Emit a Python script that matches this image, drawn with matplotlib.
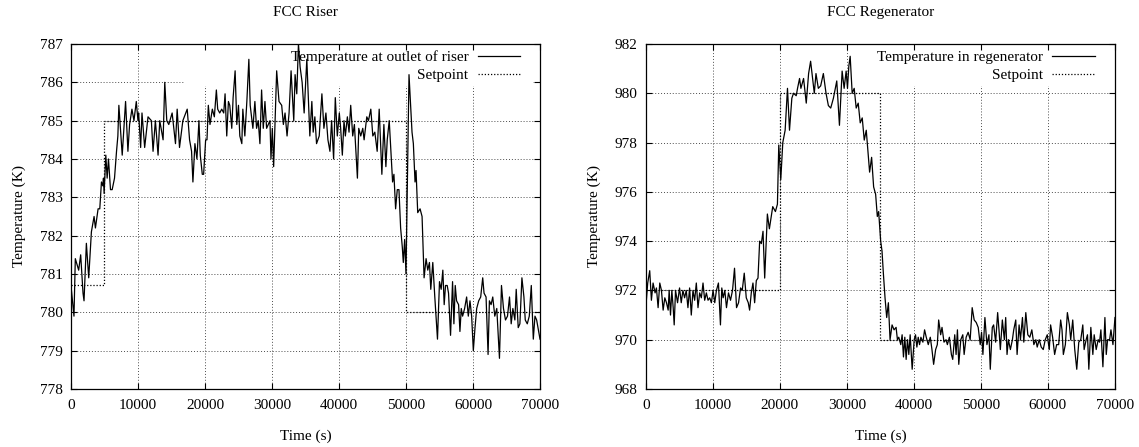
import matplotlib
matplotlib.use('Agg')
import matplotlib.pyplot as plt
from matplotlib.patches import Rectangle

plt.rcParams['font.family'] = ['Liberation Serif', 'DejaVu Serif']
plt.rcParams['font.size'] = 11

# ---- FCC riser: outlet temperature ----
riser_t = [0, 450, 650, 1150, 1450, 1800, 1950, 2300, 2450, 2650,
           3050, 3450, 3650, 4050, 4300, 4550, 4750, 4850, 4950, 5200,
           5400, 5600, 5900, 6150, 6500, 6800, 7000, 7150, 7650, 8150,
           8500, 8750, 9100, 9400, 9750, 10000, 10100, 10400, 10600, 11000,
           11500, 12000, 12250, 12600, 13000, 13250, 13750, 14000, 14300, 14600,
           15100, 15600, 15850, 16200, 16700, 17350, 17700, 18000, 18200, 18500,
           18800, 19100, 19300, 19600, 19800, 20100, 20300, 20500, 20750, 21100,
           21400, 21700, 21900, 22200, 22500, 22800, 23000, 23250, 23500, 23700,
           24000, 24200, 24500, 24750, 25000, 25200, 25500, 25650, 25950, 26250,
           26550, 26750, 27150, 27450, 27700, 27950, 28200, 28450, 28700, 28950,
           29200, 29450, 29700, 29850, 30050, 30250, 30700, 31050, 31450, 31700,
           31950, 32250, 32550, 32850, 33250, 33450, 33700, 33950, 34200, 34500,
           34800, 35200, 35650, 35950, 36150, 36400, 36650, 37050, 37450, 37750,
           38050, 38350, 38650, 38900, 39200, 39450, 39750, 40050, 40250, 40500,
           40750, 40950, 41250, 41500, 41750, 42050, 42300, 42750, 42950, 43250,
           43550, 43750, 44150, 44400, 44750, 45050, 45350, 45700, 46000, 46400,
           46700, 47000, 47200, 47500, 48000, 48200, 48450, 48700, 48950, 49200,
           49450, 49600, 49800, 50000, 50450, 50900, 51100, 51350, 51500, 51750,
           52100, 52400, 52700, 53000, 53250, 53500, 53700, 54000, 54300, 54700,
           55000, 55250, 55500, 55700, 55900, 56150, 56350, 56650, 56950, 57150,
           57350, 57550, 57850, 58050, 58250, 58450, 58750, 59050, 59300, 59550,
           59800, 60050, 60300, 60550, 60850, 61150, 61450, 61650, 61950, 62250,
           62450, 62700, 62950, 63250, 63550, 63950, 64250, 64550, 64850, 65150,
           65450, 65700, 65950, 66250, 66450, 66750, 67000, 67300, 67600, 67800,
           68100, 68400, 68700, 69000, 69250, 69500, 69800, 70000]
riser_T = [780.7, 779.9, 781.4, 781.1, 781.5, 780.5, 780.3, 781.8, 781.4, 780.9,
           782.1, 782.5, 782.2, 782.7, 782.7, 783.4, 783.3, 783.5, 783.1, 784.1,
           783.5, 784.0, 783.2, 783.2, 783.5, 784.2, 784.6, 785.4, 784.1, 785.5,
           784.2, 784.9, 785.3, 785.0, 785.5, 785.0, 785.2, 784.3, 785.2, 784.3,
           785.1, 785.0, 784.2, 785.0, 784.1, 785.0, 784.5, 786.0, 785.0, 784.9,
           785.2, 784.4, 785.3, 784.3, 785.0, 785.3, 784.5, 784.2, 783.4, 784.4,
           784.0, 785.0, 784.1, 783.6, 783.6, 784.5, 784.5, 785.4, 784.9, 785.3,
           785.1, 785.8, 785.3, 785.2, 785.3, 785.2, 785.7, 784.6, 785.5, 785.4,
           784.8, 785.6, 786.3, 784.9, 785.4, 784.6, 784.4, 785.3, 784.6, 785.5,
           786.6, 785.4, 784.8, 785.5, 784.8, 785.0, 784.4, 785.8, 784.8, 785.5,
           784.8, 784.9, 785.0, 784.0, 784.8, 783.8, 786.3, 785.5, 785.4, 784.9,
           785.2, 784.6, 785.2, 786.3, 785.0, 786.2, 785.7, 787.0, 786.4, 786.0,
           785.2, 786.6, 784.6, 785.5, 784.7, 785.1, 784.4, 784.6, 785.7, 784.8,
           785.2, 784.5, 784.2, 785.0, 784.0, 785.6, 784.6, 785.2, 784.8, 784.1,
           785.0, 784.6, 785.1, 784.7, 785.4, 784.6, 784.9, 783.5, 784.8, 784.6,
           784.8, 784.5, 785.1, 785.0, 785.3, 784.6, 784.7, 784.2, 785.3, 783.6,
           784.9, 783.8, 784.5, 785.0, 783.4, 783.6, 782.7, 783.2, 783.2, 782.2,
           781.7, 781.3, 781.9, 781.0, 786.2, 784.7, 784.4, 783.4, 783.7, 782.6,
           782.7, 782.5, 780.9, 781.4, 781.1, 781.3, 780.6, 781.3, 780.4, 779.3,
           780.8, 780.6, 781.1, 780.2, 780.7, 780.7, 780.5, 779.4, 780.8, 779.7,
           780.7, 780.3, 780.2, 779.5, 780.1, 779.9, 780.1, 780.4, 779.9, 780.3,
           779.9, 779.0, 779.6, 780.1, 780.3, 780.4, 780.9, 780.5, 780.4, 778.9,
           780.3, 780.2, 780.4, 779.9, 780.1, 778.8, 780.7, 780.1, 779.8, 779.9,
           780.4, 779.7, 780.1, 779.8, 780.6, 779.6, 779.7, 780.9, 780.4, 779.8,
           779.7, 779.9, 780.7, 779.3, 779.9, 779.8, 779.5, 779.3]
riser_sp_t = [0, 5000, 50000, 70000]
riser_sp_T = [780.7, 785.0, 780.0, 780.0]

# ---- FCC regenerator temperature ----
regen_t = [0, 100, 300, 600, 850, 1100, 1400, 1600, 1850, 2100,
           2350, 2600, 2850, 3100, 3350, 3500, 3700, 3900, 4100, 4250,
           4450, 4750, 5050, 5300, 5550, 5800, 6050, 6300, 6550, 6800,
           7050, 7300, 7550, 7800, 8050, 8300, 8550, 8800, 9050, 9300,
           9550, 9800, 10050, 10300, 10550, 10850, 11150, 11350, 11550, 11800,
           12050, 12350, 12650, 12950, 13250, 13550, 13850, 14150, 14400, 14700,
           15000, 15300, 15500, 15750, 16000, 16250, 16500, 16750, 17000, 17250,
           17500, 17750, 18150, 18450, 18950, 19350, 19650, 19850, 20150, 20450,
           20800, 21150, 21450, 21800, 22050, 22450, 22650, 22950, 23150, 23550,
           23950, 24300, 24600, 24900, 25150, 25400, 25750, 26100, 26500, 26900,
           27250, 27600, 28000, 28500, 28900, 29300, 29600, 29900, 30100, 30300,
           30500, 30800, 31100, 31400, 31700, 32000, 32300, 32600, 32900, 33200,
           33400, 33700, 34000, 34300, 34550, 34750, 35050, 35250, 35450, 35700,
           35950, 36200, 36450, 36750, 37050, 37350, 37550, 37750, 38050, 38250,
           38450, 38650, 38850, 39050, 39250, 39450, 39750, 40050, 40250, 40450,
           40650, 40850, 41050, 41350, 41600, 41850, 42150, 42450, 42700, 42950,
           43250, 43500, 43700, 44000, 44200, 44500, 44800, 45000, 45300, 45600,
           45800, 46100, 46300, 46500, 46700, 47000, 47300, 47500, 47800, 48100,
           48400, 48700, 49000, 49300, 49600, 49900, 50100, 50300, 50600, 50900,
           51200, 51400, 51700, 51900, 52200, 52500, 52700, 52900, 53200, 53500,
           53700, 53900, 54100, 54400, 54700, 54900, 55200, 55400, 55700, 55900,
           56200, 56400, 56700, 57000, 57300, 57600, 57900, 58200, 58400, 58700,
           59000, 59300, 59600, 59900, 60200, 60400, 60700, 61000, 61300, 61600,
           61900, 62100, 62300, 62600, 62900, 63200, 63400, 63700, 64000, 64300,
           64600, 64900, 65200, 65400, 65700, 65900, 66100, 66400, 66700, 66900,
           67200, 67500, 67700, 67900, 68200, 68500, 68700, 68900, 69200, 69400,
           69700, 70000]
regen_T = [971.9, 971.6, 972.3, 972.8, 971.6, 972.3, 971.9, 972.1, 971.3, 972.3,
           972.0, 971.2, 971.7, 971.5, 971.2, 972.0, 971.0, 972.0, 971.3, 970.6,
           972.0, 971.5, 972.1, 971.5, 972.0, 971.7, 972.0, 971.3, 972.1, 971.0,
           972.0, 971.6, 972.3, 971.3, 971.9, 971.7, 972.3, 971.6, 971.9, 971.6,
           971.7, 971.5, 972.0, 971.5, 972.0, 972.3, 970.6, 972.1, 971.7, 972.0,
           971.3, 971.9, 971.6, 972.0, 972.9, 971.3, 971.5, 972.1, 972.0, 972.7,
           971.7, 971.5, 971.2, 971.9, 972.3, 971.5, 972.4, 972.5, 974.0, 973.9,
           974.4, 972.5, 975.1, 974.5, 975.4, 975.2, 975.5, 977.9, 976.5, 978.0,
           978.5, 980.2, 978.5, 979.8, 980.0, 979.9, 980.2, 980.6, 980.2, 980.6,
           979.6, 980.8, 981.3, 980.6, 980.0, 980.8, 980.2, 980.3, 980.8, 980.0,
           979.5, 979.4, 979.8, 980.5, 978.7, 980.9, 980.2, 980.9, 980.2, 981.1,
           981.5, 980.0, 980.2, 979.4, 979.6, 978.8, 979.0, 978.1, 978.5, 977.5,
           976.8, 977.4, 976.2, 975.9, 975.0, 975.2, 974.0, 973.6, 972.7, 971.7,
           970.9, 971.5, 970.0, 970.6, 970.4, 970.5, 970.0, 970.1, 969.8, 970.2,
           969.3, 970.1, 969.2, 970.0, 969.4, 970.2, 968.8, 970.0, 970.2, 969.7,
           970.1, 969.8, 970.1, 969.9, 970.4, 970.1, 969.8, 970.1, 969.6, 969.0,
           969.6, 969.8, 970.8, 970.2, 970.5, 969.9, 970.0, 969.8, 970.1, 969.4,
           969.2, 970.2, 969.4, 970.4, 969.0, 970.0, 970.2, 969.4, 970.1, 970.3,
           970.0, 971.3, 970.8, 970.7, 970.5, 969.8, 970.3, 969.4, 970.9, 969.8,
           970.2, 968.8, 970.5, 970.6, 969.9, 971.1, 970.4, 969.6, 970.8, 970.0,
           970.9, 969.4, 970.0, 969.6, 970.0, 970.4, 970.8, 969.4, 970.6, 970.0,
           970.9, 969.9, 971.1, 970.2, 970.1, 970.4, 969.8, 970.0, 969.7, 970.0,
           969.7, 969.6, 970.0, 970.2, 969.6, 970.6, 970.1, 969.4, 969.8, 969.8,
           970.8, 970.4, 969.4, 969.8, 971.1, 970.6, 970.0, 970.8, 969.6, 968.8,
           969.9, 970.0, 970.6, 969.6, 970.0, 970.2, 968.8, 970.5, 969.4, 970.2,
           969.6, 970.0, 969.9, 970.4, 968.9, 970.9, 969.4, 970.0, 970.0, 970.4,
           969.8, 970.9]
regen_sp_t = [0, 20000, 35000, 70000]
regen_sp_T = [972.0, 980.0, 970.0, 970.0]

x_ticks = list(range(0, 70001, 10000))
riser_yticks = list(range(778, 788))
regen_yticks = list(range(968, 983, 2))


def panel(ax, t, T, sp_t, sp_T, yticks, title, label, key_left):
    ax.plot(t, T, color='black', lw=0.9, zorder=2, label=label)
    ax.plot(sp_t, sp_T, color='black', lw=0.9, ls=(0, (1, 1.5)),
            drawstyle='steps-post', zorder=2, label='Setpoint')
    ax.set_xlim(0, 70000)
    ax.set_ylim(yticks[0], yticks[-1])
    ax.set_xticks(x_ticks)
    ax.set_yticks(yticks)

    # gnuplot style grid, hidden behind the key area
    for xv in x_ticks[1:-1]:
        ax.axvline(xv, color='0.3', lw=0.7, ls=(0, (1, 2)), zorder=0.6)
    for yv in yticks[1:-1]:
        ax.axhline(yv, color='0.3', lw=0.7, ls=(0, (1, 2)), zorder=0.6)
    ax.add_patch(Rectangle((key_left, 0.879), 0.985 - key_left, 0.121,
                           transform=ax.transAxes, facecolor='white',
                           edgecolor='none', zorder=1))

    ax.tick_params(direction='in', top=True, right=True, length=4, width=0.8,
                   labelsize=11)
    ax.tick_params(axis='x', pad=7)
    ax.tick_params(axis='y', pad=6)
    for s in ax.spines.values():
        s.set_linewidth(0.9)

    ax.set_title(title, fontsize=11, pad=20)
    ax.set_xlabel('Time (s)', fontsize=11, labelpad=13)
    ax.set_ylabel('Temperature (K)', fontsize=11, labelpad=10)
    ax.legend(loc='upper right', bbox_to_anchor=(0.958, 0.982),
              markerfirst=False, frameon=False, fontsize=11,
              handlelength=2.8, handletextpad=0.6, labelspacing=0.3,
              borderpad=0, borderaxespad=0)


fig = plt.figure(figsize=(11.39, 4.47), dpi=100)
ax1 = fig.add_axes([0.0623, 0.1298, 0.4118, 0.7718])
ax2 = fig.add_axes([0.5669, 0.1298, 0.4120, 0.7718])

panel(ax1, riser_t, riser_T, riser_sp_t, riser_sp_T, riser_yticks,
      'FCC Riser', 'Temperature at outlet of riser', 0.243)
panel(ax2, regen_t, regen_T, regen_sp_t, regen_sp_T, regen_yticks,
      'FCC Regenerator', 'Temperature in regenerator', 0.45)

fig.savefig('out.png', dpi=100)
